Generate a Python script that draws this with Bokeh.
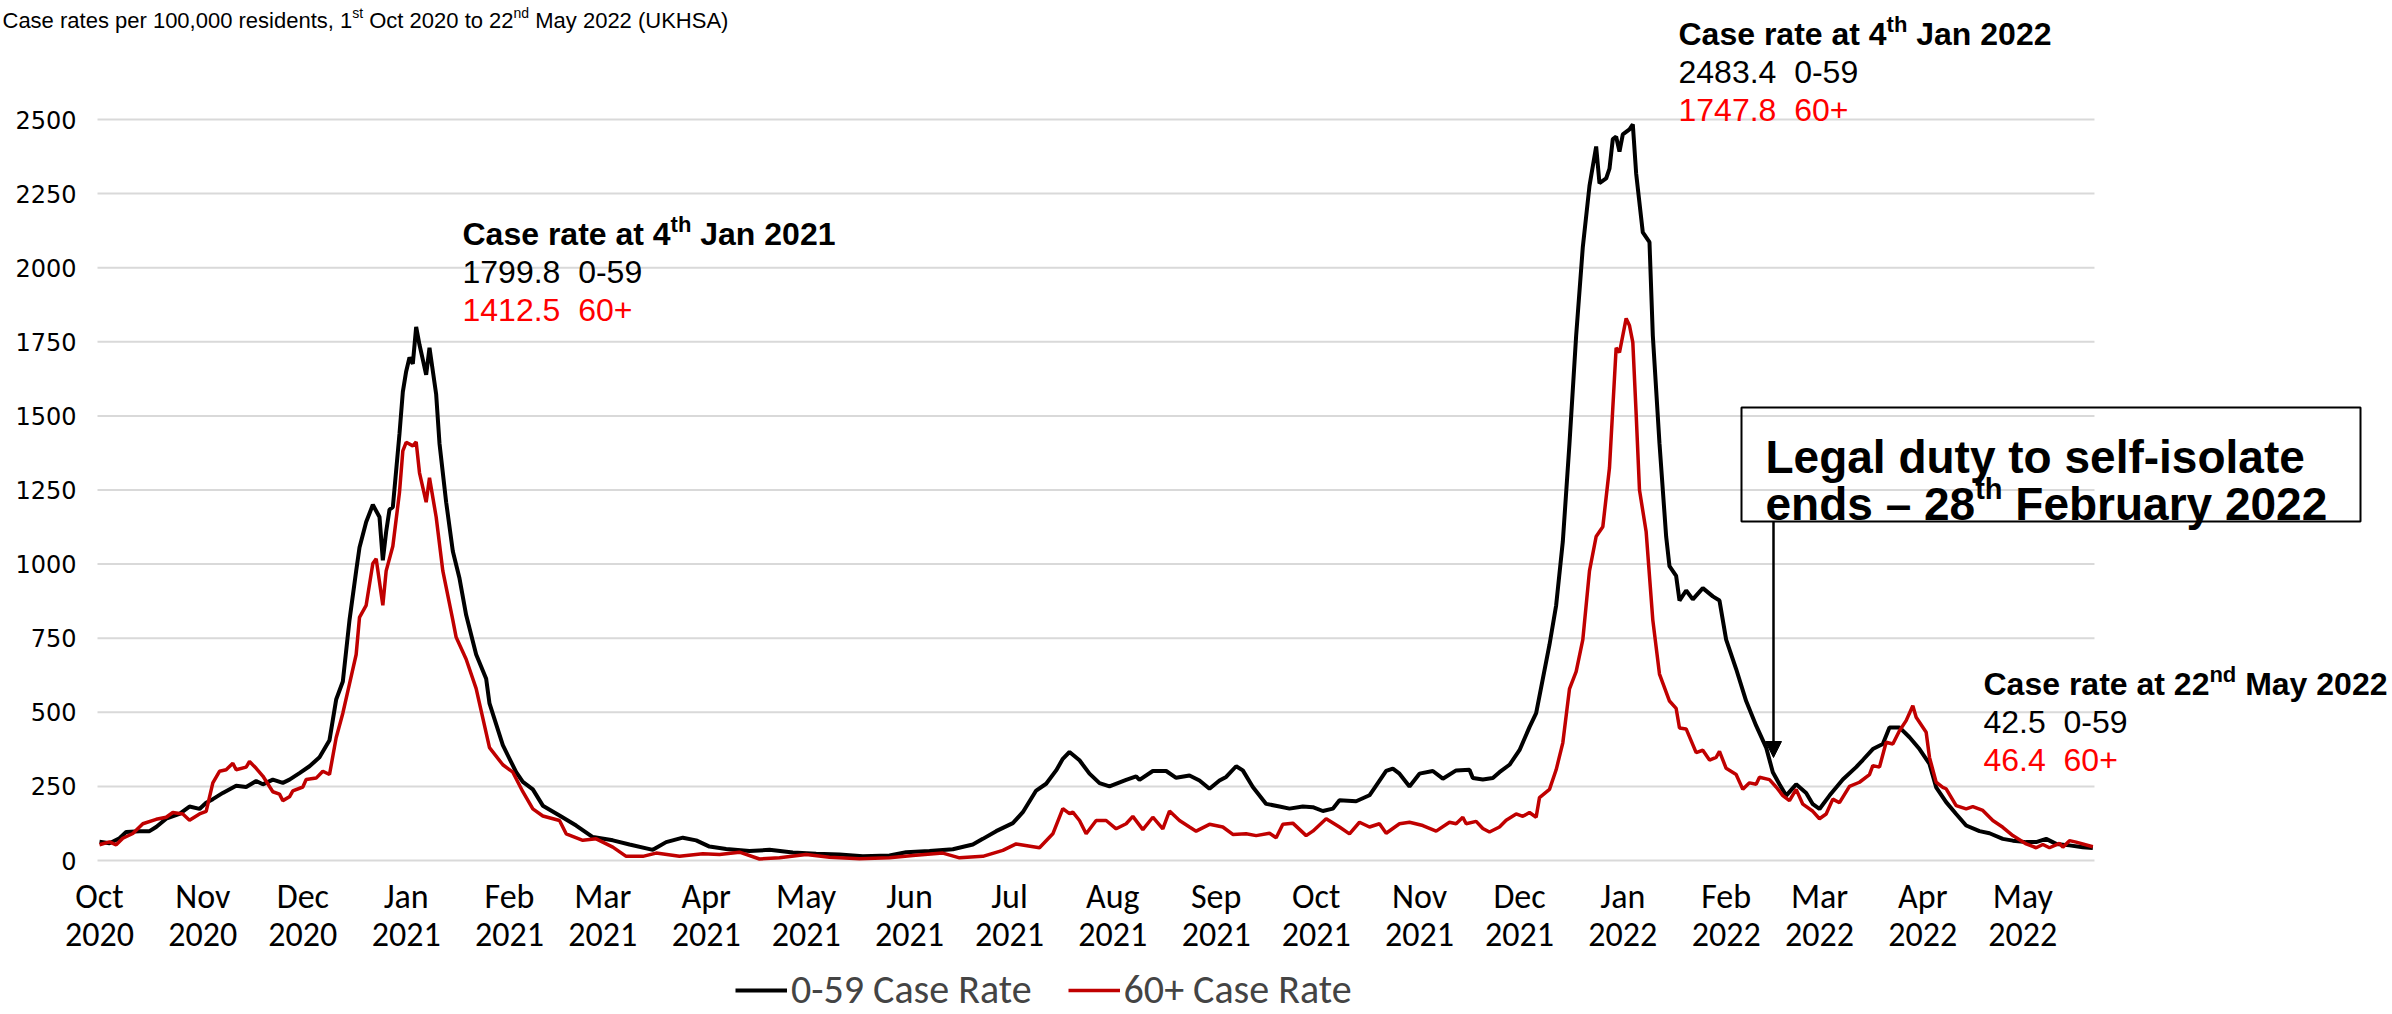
import pandas as pd
from bokeh.plotting import figure
from bokeh.models import Range1d, Label, Legend, LegendItem, Arrow, NormalHead, BoxAnnotation
from bokeh.core.properties import value
from bokeh.embed import file_html
from bokeh.resources import INLINE

# ---------------- data ----------------
START = "2020-10-01"   # day 0 of the series

days_0_59 = [0,3,6,8,12,15,17,20,24,27,30,32,34,37,41,44,47,49,52,55,
             57,60,63,66,69,71,73,75,77,78,80,82,84,85,86,87,88,90,91,92,
             93,94,95,96,97,98,99,101,102,104,106,108,110,113,116,117,121,125,127,130,
             133,138,143,148,154,159,166,170,175,179,183,188,195,201,208,215,222,229,237,242,
             249,256,262,265,269,274,277,281,284,287,289,291,294,297,300,303,308,311,312,316,
             320,323,327,330,333,336,338,341,343,346,350,354,357,361,364,367,370,372,377,381,
             383,386,388,390,393,396,400,403,407,411,412,415,418,420,423,426,429,431,433,435,
             437,439,441,443,445,447,449,450,452,453,454,455,456,457,459,460,461,463,465,466,
             468,470,471,473,474,476,478,481,484,486,488,491,494,497,500,502,504,506,509,512,
             514,516,519,523,527,529,532,535,537,540,543,546,549,551,554,557,560,564,567,571,
             574,578,581,584,587,591,595,598]
rate_0_59 = [63,58,75,96,99,99,113,141,157,182,174,195,207,228,252,248,268,257,273,262,
             273,295,318,348,406,543,604,811,977,1056,1142,1200,1159,1013,1109,1184,1192,1440,1581,1650,
             1697,1676,1800,1740,1690,1639,1730,1573,1407,1209,1043,952,828,695,613,530,389,298,265,240,
             185,152,118,79,68,54,36,62,77,68,47,39,32,36,27,23,20,14,17,28,
             32,38,54,73,99,126,163,236,259,304,343,366,338,293,261,250,272,284,272,302,
             302,279,287,270,242,270,282,318,304,248,191,182,175,182,180,167,175,203,200,220,
             253,302,310,293,250,293,302,276,304,306,278,273,278,298,323,372,450,497,613,728,
             861,1076,1407,1771,2070,2276,2409,2285,2301,2334,2434,2442,2392,2450,2467,2483.4,2318,2119,2086,1771,
             1407,1093,993,960,877,911,881,919,891,877,745,646,538,455,381,298,257,219,257,228,
             190,174,219,273,315,339,376,393,449,449,416,376,326,247,197,157,118,99,92,73,
             67,62,62,73,56,51,45,42.5]

days_60_plus = [0,3,5,7,10,13,17,20,22,25,27,30,32,34,36,38,40,41,44,45,
                47,49,52,54,55,57,58,61,62,65,67,69,71,73,75,77,78,80,82,83,
                85,86,88,90,91,92,94,95,96,98,99,101,103,106,107,110,113,117,121,124,
                127,130,133,138,140,145,149,154,158,163,167,174,181,186,192,198,204,212,219,228,
                237,244,253,258,265,271,275,282,286,289,291,292,294,296,299,302,305,308,310,313,
                316,319,321,324,327,329,333,337,340,344,347,351,353,355,358,362,364,368,372,375,
                378,381,384,386,390,393,397,401,405,407,409,410,413,415,417,420,422,425,427,429,
                431,432,435,437,439,441,443,445,447,449,451,453,455,456,458,459,460,461,462,464,
                466,468,471,473,474,476,479,481,483,485,486,488,491,493,495,497,498,501,503,505,
                507,509,511,514,516,518,520,522,525,528,531,532,534,536,538,540,542,544,545,548,
                549,551,553,554,557,560,562,565,568,571,574,578,581,583,585,588,589,591,593,598]
rate_60_plus = [53,63,53,75,91,124,139,146,162,157,136,157,166,262,301,306,328,306,315,334,
                311,285,232,224,202,215,235,248,273,278,301,290,414,497,596,695,820,861,1002,1018,
                861,977,1060,1242,1382,1411,1399,1412.5,1308,1209,1291,1159,977,811,753,679,580,381,323,298,
                232,174,150,135,90,68,73,45,14,14,25,14,23,20,28,5,9,20,11,6,
                9,17,25,9,14,34,56,43,90,175,158,163,135,90,135,135,107,124,149,104,
                146,107,167,135,113,99,122,113,88,90,84,92,77,122,126,84,99,141,113,90,
                129,113,124,92,124,129,118,99,129,124,146,124,132,108,96,113,136,157,149,162,
                146,212,240,306,397,579,637,745,977,1093,1126,1325,1730,1714,1829,1805,1747.8,1507,1250,1109,
                811,629,538,513,447,444,364,372,339,348,368,311,290,240,262,257,281,273,248,219,
                202,240,190,166,141,157,207,195,250,264,290,320,315,399,393,438,472,522,483,433,
                348,264,247,242,185,174,182,169,135,112,84,56,43,54,43,58,45,67,62,46.4]

month_labels = ["Oct\n2020", "Nov\n2020", "Dec\n2020", "Jan\n2021", "Feb\n2021", "Mar\n2021",
                "Apr\n2021", "May\n2021", "Jun\n2021", "Jul\n2021", "Aug\n2021", "Sep\n2021",
                "Oct\n2021", "Nov\n2021", "Dec\n2021", "Jan\n2022", "Feb\n2022", "Mar\n2022",
                "Apr\n2022", "May\n2022"]
y_ticks = [0, 250, 500, 750, 1000, 1250, 1500, 1750, 2000, 2250, 2500]

series_names = ["0-59 Case Rate", "60+ Case Rate"]
title_parts = ("Case rates per 100,000 residents, 1", "st", "\u00a0Oct 2020 to 22", "nd",
               "\u00a0May 2022 (UKHSA)")

notes = [  # heading parts, value line 0-59, value line 60+
    (("Case rate at 4", "th", "\u00a0Jan 2021"), "1799.8 \u00a00-59", "1412.5 \u00a060+"),
    (("Case rate at 4", "th", "\u00a0Jan 2022"), "2483.4 \u00a00-59", "1747.8 \u00a060+"),
    (("Case rate at 22", "nd", "\u00a0May 2022"), "42.5 \u00a00-59", "46.4 \u00a060+"),
]
event_lines = ("Legal duty to self-isolate", ("ends \u2013 28", "th", "\u00a0February 2022"))

# ---------------- styling / layout ----------------
ARIAL = "Liberation Sans"
NARROW = "Carlito, 'Liberation Sans Narrow', 'DejaVu Sans Condensed', sans-serif"
BLACK, RED, BRIGHT_RED = "#000000", "#C00000", "#FF0000"
W, H = 2392, 1014
PX_PER_UNIT = 0.2964      # vertical pixels per case-rate unit
PX_PER_DAY = 3.3333       # horizontal pixels per day
X_DAY0, Y_ZERO = 99, 860  # pixel of day 0 / of rate 0

x_lo = -X_DAY0 / PX_PER_DAY
y_hi = Y_ZERO / PX_PER_UNIT
p = figure(width=W, height=H, output_backend="svg", toolbar_location=None,
           x_axis_location=None, y_axis_location=None, min_border=0,
           x_range=Range1d(x_lo, x_lo + W / PX_PER_DAY),
           y_range=Range1d(y_hi - H / PX_PER_UNIT, y_hi))
p.outline_line_color = None
p.background_fill_color = "white"
p.border_fill_color = "white"
p.grid.visible = False

def day_of(px):          # pixel -> day
    return (px - X_DAY0) / PX_PER_DAY
def val_of(py):          # pixel -> rate
    return (Y_ZERO - py) / PX_PER_UNIT

month_days = [(m - pd.Timestamp(START)).days
              for m in pd.date_range(START, periods=len(month_labels), freq="MS")]

# horizontal gridlines and tick labels
gx0, gx1 = min(days_0_59) - 0.6, max(days_0_59) + 0.5
p.segment(x0=[gx0] * len(y_ticks), x1=[gx1] * len(y_ticks), y0=y_ticks, y1=y_ticks,
          line_color="#d9d9d9", line_width=2)
p.text(x=[gx0] * len(y_ticks), y=y_ticks, text=[str(t) for t in y_ticks], x_offset=-21,
       text_align="right", text_baseline="middle", text_font=value("DejaVu Sans"),
       text_font_size="24px", text_color="black")
p.text(x=month_days, y=[val_of(896)] * len(month_days), text=[m.split("\n")[0] for m in month_labels],
       text_align="center", text_baseline="middle", text_font=value(NARROW),
       text_font_size="34px", text_color="black")
p.text(x=month_days, y=[val_of(934)] * len(month_days), text=[m.split("\n")[1] for m in month_labels],
       text_align="center", text_baseline="middle", text_font=value(NARROW),
       text_font_size="34px", text_color="black")

r_young = p.line(days_0_59, rate_0_59, line_color=BLACK, line_width=4)
r_old = p.line(days_60_plus, rate_60_plus, line_color=RED, line_width=3.5)

legend = Legend(items=[LegendItem(label=series_names[0], renderers=[r_young]),
                       LegendItem(label=series_names[1], renderers=[r_old])],
                orientation="horizontal", location=(735, 0),
                label_text_font=NARROW, label_text_font_size="40px",
                glyph_width=52, glyph_height=40, label_height=40, label_standoff=4,
                spacing=36, padding=0, margin=0, border_line_color=None,
                background_fill_alpha=0)
p.add_layout(legend, "center")

# Arial Bold / Regular advance widths (per 1000 em) for placing superscripts
BOLD_W = {'C':722,'a':556,'s':556,'e':556,' ':278,'r':389,'t':333,'h':611,'n':611,'d':611,
          'J':556,'M':833,'y':556,'\u2013':556,'F':611,'b':611,'u':611}
REG_W = {'C':722,'a':556,'s':500,'e':556,' ':278,'r':333,'t':278,'p':556,',':278,'i':222,
         'd':556,'n':556,'O':778,'c':500,'o':556,'M':833,'y':500,'(':333,')':333,'U':722,
         'K':667,'H':722,'S':667,'A':667,'\u00a0':278}
def width(txt, size, bold=True):
    table = BOLD_W if bold else REG_W
    return sum(table.get(c, 556) for c in txt) * size / 1000.0

def lab(x, y, text, size, color=BLACK, bold=False, x_offset=0):
    p.add_layout(Label(x=x, y=y, text=text, text_font=ARIAL, text_font_size=f"{size}px",
                       text_font_style="bold" if bold else "normal", text_color=color,
                       x_offset=x_offset, text_align="left", text_baseline="alphabetic"))

def rich(x, base_y, parts, size, sup_size, rise, bold):
    """parts alternate normal / superscript text"""
    off = 0
    for i, part in enumerate(parts):
        if i % 2 == 0:
            lab(x, val_of(base_y), part, size, bold=bold, x_offset=off)
            off += width(part, size, bold)
        else:
            lab(x, val_of(base_y - rise), part, sup_size, bold=bold, x_offset=off)
            off += width(part, sup_size, bold)

# chart title along the top edge
rich(day_of(2), 20, title_parts, 22, 14, 8, False)

# the three "Case rate at ..." notes: (left x, heading baseline y) in pixels
note_pos = [(462, 233), (1678, 33), (1983, 683)]
for (px, py), (head, l1, l2) in zip(note_pos, notes):
    x = day_of(px)
    rich(x, py, head, 32, 22, 9, True)
    lab(x, val_of(py + 38), l1, 32, color=BLACK)
    lab(x, val_of(py + 76), l2, 32, color=BRIGHT_RED)

# boxed event note with arrow
p.add_layout(BoxAnnotation(left=day_of(1741), right=day_of(2360), top=val_of(407),
                           bottom=val_of(521), fill_alpha=0, line_color="black",
                           line_alpha=1, line_width=2))
bx = day_of(1765)
lab(bx, val_of(456), event_lines[0], 46, bold=True)
rich(bx, 503, event_lines[1], 46, 29, 15, True)

ax_day = day_of(1773)
p.add_layout(Arrow(end=NormalHead(size=16, fill_color="black", line_color="black"),
                   x_start=ax_day, y_start=val_of(521), x_end=ax_day, y_end=val_of(757),
                   line_color="black", line_width=2.5))

open("out.html", "w").write(file_html(p, INLINE))
